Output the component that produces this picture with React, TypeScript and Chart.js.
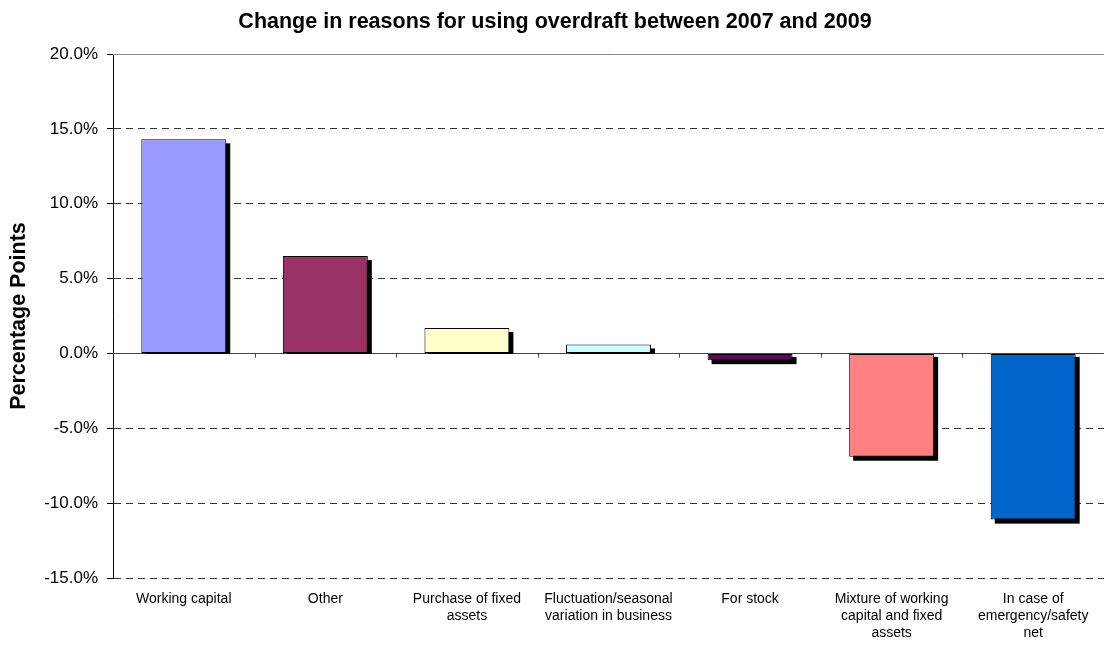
import React, { useEffect, useRef } from 'react';
import { Chart, registerables } from 'chart.js';

Chart.register(...registerables);

const categories: (string | string[])[] = [
  'Working capital',
  'Other',
  ['Purchase of fixed', 'assets'],
  ['Fluctuation/seasonal', 'variation in business'],
  'For stock',
  ['Mixture of working', 'capital and fixed', 'assets'],
  ['In case of', 'emergency/safety', 'net'],
];
const changeValues = [14.3, 6.5, 1.7, 0.6, -0.45, -6.9, -11.1];
const barColors = ['#9999FF', '#993366', '#FFFFCC', '#CCFFFF', '#660066', '#FF8080', '#0066CC'];
const yMin = -15;
const yMax = 20;
const yStep = 5;
const titleText = 'Change in reasons for using overdraft between 2007 and 2009';
const yAxisTitle = 'Percentage Points';

const FONT = '"Liberation Sans", Arial, sans-serif';

const decorPlugin = {
  id: 'decor',
  beforeDatasetsDraw(chart: any) {
    const { ctx, chartArea, scales } = chart;
    const y = scales.y;
    const x = scales.x;
    ctx.save();
    // top solid line
    const topY = Math.round(y.getPixelForValue(yMax)) + 0.5;
    ctx.setLineDash([]);
    ctx.lineWidth = 1;
    ctx.strokeStyle = '#8c8c8c';
    ctx.beginPath();
    ctx.moveTo(chartArea.left, topY);
    ctx.lineTo(chartArea.right, topY);
    ctx.stroke();
    // zero line
    const zy = Math.round(y.getPixelForValue(0)) + 0.5;
    ctx.strokeStyle = '#444';
    ctx.beginPath();
    ctx.moveTo(chartArea.left, zy);
    ctx.lineTo(chartArea.right, zy);
    ctx.stroke();
    // category boundary tick marks
    const n = categories.length;
    ctx.beginPath();
    for (let i = 1; i < n; i++) {
      const bx = Math.round((x.getPixelForValue(i - 1) + x.getPixelForValue(i)) / 2) + 0.5;
      ctx.moveTo(bx, zy);
      ctx.lineTo(bx, zy + 4);
    }
    ctx.stroke();
    // shadows
    const meta = chart.getDatasetMeta(0);
    ctx.fillStyle = '#000';
    meta.data.forEach((bar: any) => {
      const p = bar.getProps(['x', 'y', 'base', 'width'], true);
      const left = p.x - p.width / 2;
      if (p.y < p.base) {
        ctx.fillRect(left + 4, p.y + 4, p.width, p.base - p.y - 3);
      } else {
        ctx.fillRect(left + 4, p.base + 3, p.width, p.y - p.base + 1);
      }
    });
    ctx.restore();
  },
  afterDraw(chart: any) {
    const { ctx } = chart;
    ctx.save();
    ctx.fillStyle = '#000';
    ctx.font = `bold 21.5px ${FONT}`;
    ctx.textAlign = 'center';
    ctx.textBaseline = 'alphabetic';
    ctx.fillText(titleText, 555, 28);
    ctx.restore();
  },
};

export default function App() {
  const ref = useRef<HTMLCanvasElement>(null);
  useEffect(() => {
    Chart.defaults.font.family = FONT;
    const chart = new Chart(ref.current as HTMLCanvasElement, {
      type: 'bar',
      data: {
        labels: categories as any,
        datasets: [
          {
            data: changeValues,
            backgroundColor: barColors,
            borderColor: '#000',
            borderWidth: 1,
            borderSkipped: false,
            barPercentage: 0.6,
            categoryPercentage: 1,
          },
        ],
      },
      options: {
        animation: false,
        responsive: false,
        layout: { padding: { top: 54, left: 0, right: 0, bottom: 0 } },
        plugins: {
          legend: { display: false },
          tooltip: { enabled: false },
          title: { display: false },
        },
        scales: {
          x: {
            offset: true,
            grid: { display: false },
            border: { display: false },
            ticks: {
              autoSkip: false,
              maxRotation: 0,
              minRotation: 0,
              color: '#000',
              font: { size: 14, lineHeight: 1.2 },
              padding: 5,
            },
            afterFit(scale: any) {
              scale.height = 67;
            },
          },
          y: {
            min: yMin,
            max: yMax,
            grid: {
              color: '#333',
              lineWidth: 1,
              drawTicks: true,
              tickLength: 6,
              tickColor: '#000',
            },
            border: { display: true, color: '#000', width: 1, dash: [7, 5] },
            ticks: {
              stepSize: yStep,
              color: '#000',
              font: { size: 17 },
              padding: 9,
              callback: (v: any) => Number(v).toFixed(1) + '%',
            },
            title: {
              display: true,
              text: yAxisTitle,
              color: '#000',
              font: { size: 21.5, weight: 'bold' },
              padding: { top: 6, bottom: 0 },
            },
            afterFit(scale: any) {
              scale.width = 113;
            },
          },
        },
      },
      plugins: [decorPlugin],
    });
    return () => chart.destroy();
  }, []);
  return (
    <div style={{ position: 'absolute', left: 0, top: 0, width: 1104, height: 645, background: '#fff' }}>
      <canvas ref={ref} width={1104} height={645} style={{ display: 'block' }} />
    </div>
  );
}
